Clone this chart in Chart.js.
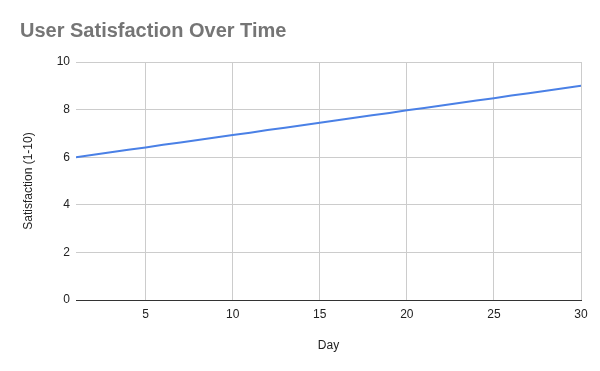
<!DOCTYPE html>
<html>
<head>
<meta charset="utf-8">
<script src="https://cdn.jsdelivr.net/npm/chart.js@4"></script>
<style>
  html, body { margin: 0; padding: 0; background: #fff; }
  #wrap { width: 600px; height: 371px; }
</style>
</head>
<body>
<div id="wrap"><canvas id="satChart" width="600" height="371"></canvas></div>
<script>
// data
const days = [1, 2, 3, 4, 5, 6, 7, 8, 9, 10, 11, 12, 13, 14, 15,
              16, 17, 18, 19, 20, 21, 22, 23, 24, 25, 26, 27, 28, 29, 30];
const satisfaction = [6.00, 6.10, 6.21, 6.31, 6.41, 6.52, 6.62, 6.72, 6.83, 6.93,
                      7.03, 7.14, 7.24, 7.34, 7.45, 7.55, 7.66, 7.76, 7.86, 7.97,
                      8.07, 8.17, 8.28, 8.38, 8.48, 8.59, 8.69, 8.79, 8.90, 9.00];
const xTicks = [5, 10, 15, 20, 25, 30];
const yTicks = [0, 2, 4, 6, 8, 10];

const FONT = "'Liberation Sans', Arial, sans-serif";

const ctx = document.getElementById('satChart').getContext('2d');
new Chart(ctx, {
  type: 'line',
  data: {
    datasets: [{
      label: 'Satisfaction',
      data: days.map((d, i) => ({ x: d, y: satisfaction[i] })),
      borderColor: '#4a80e6',
      borderWidth: 2,
      pointRadius: 0,
      tension: 0
    }]
  },
  options: {
    responsive: false,
    animation: false,
    layout: { padding: { left: 20, right: 19, top: 0, bottom: 0 } },
    plugins: {
      legend: { display: false },
      tooltip: { enabled: false },
      title: {
        display: true,
        text: 'User Satisfaction Over Time',
        align: 'start',
        color: '#757575',
        font: { family: FONT, size: 20, weight: 'bold' },
        padding: { top: 19, bottom: 19 }
      }
    },
    scales: {
      x: {
        type: 'linear',
        min: 1,
        max: 30,
        afterBuildTicks: s => { s.ticks = xTicks.map(v => ({ value: v })); },
        afterFit: s => { s.height = 71; },
        grid: { color: '#cccccc', drawTicks: false },
        border: { display: true, color: '#333333', width: 1 },
        ticks: { color: '#222', font: { family: FONT, size: 12 }, padding: 7, maxRotation: 0 },
        title: {
          display: true, text: 'Day', color: '#222',
          font: { family: FONT, size: 12 }, padding: { top: 0, bottom: 18 }
        }
      },
      y: {
        min: 0,
        max: 10,
        afterBuildTicks: s => { s.ticks = yTicks.map(v => ({ value: v })); },
        afterFit: s => { s.width = 56; },
        grid: { color: '#cccccc', drawTicks: false },
        border: { display: false },
        ticks: { color: '#222', font: { family: FONT, size: 12 }, padding: 6 },
        title: {
          display: true, text: 'Satisfaction (1-10)', color: '#222',
          font: { family: FONT, size: 12 }, padding: { top: 1, bottom: 0 }
        }
      }
    }
  }
});
</script>
</body>
</html>
